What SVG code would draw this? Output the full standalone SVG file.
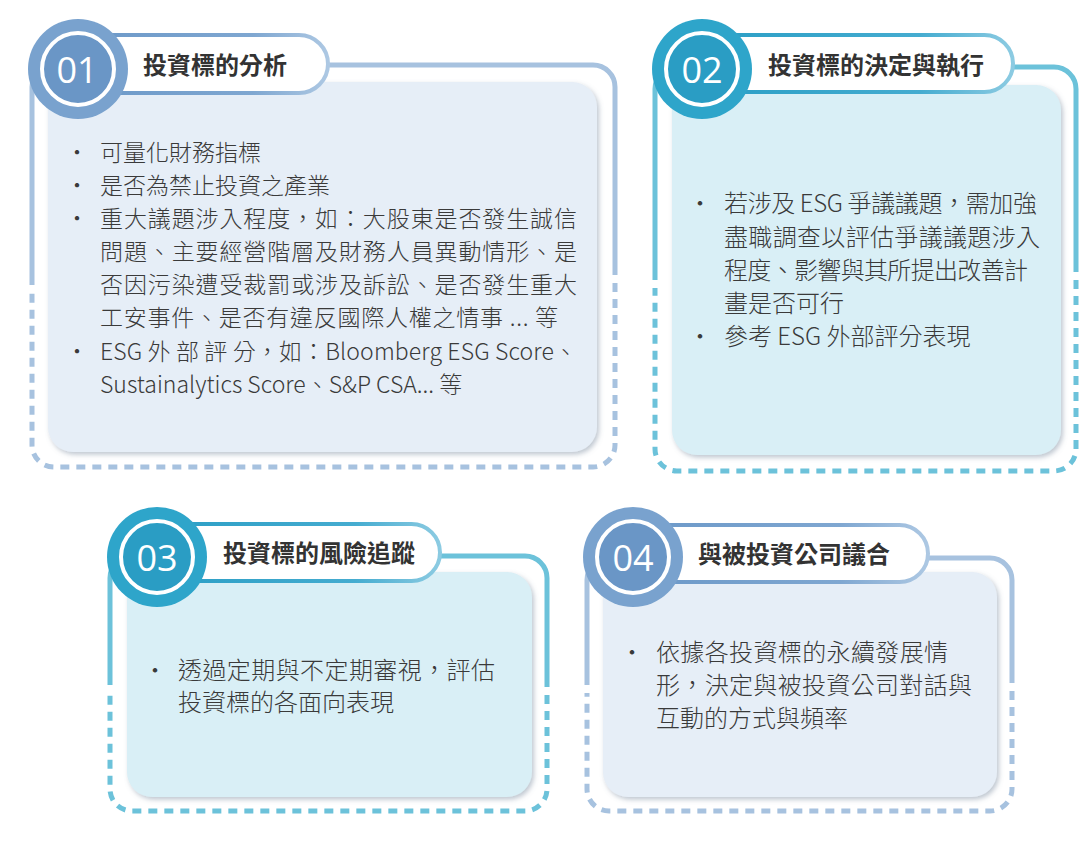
<svg xmlns="http://www.w3.org/2000/svg" width="1091" height="848" viewBox="0 0 1091 848">
<defs>
<style>
.frame{fill:none;stroke-width:5;stroke-linecap:butt}
.dash{stroke-dasharray:9 7}
.c1{stroke:#a7c2df}
.c2{stroke:#6cc2da}
.card1{fill:#e6eef7}
.card2{fill:#d9eff6}
.pill{fill:#ffffff;stroke-width:4}
.ring{fill:none;stroke:#ffffff;stroke-width:4}
.title{font-family:"Noto Sans CJK TC","Noto Sans",sans-serif;font-size:24px;font-weight:700;fill:#333333}
.num{font-family:"Open Sans","Noto Sans",sans-serif;font-size:36px;fill:#ffffff;text-anchor:middle}
.body{font-family:"Noto Sans CJK TC","Noto Sans",sans-serif;font-weight:300;fill:#3a3a3a}
.s23{font-size:23px}
.s24{font-size:24px}
.dot{text-anchor:middle}
</style>
<filter id="shadow" x="-5%" y="-5%" width="112%" height="115%">
<feDropShadow dx="2" dy="2.5" stdDeviation="2.5" flood-color="#6f8195" flood-opacity="0.45"/>
</filter>
<linearGradient id="pg1" x1="0" y1="0" x2="1" y2="0">
<stop offset="0" stop-color="#6b98c8"/>
<stop offset="0.7" stop-color="#7fa7d1"/>
<stop offset="1" stop-color="#adc8e3"/>
</linearGradient>
<linearGradient id="pg2" x1="0" y1="0" x2="1" y2="0">
<stop offset="0" stop-color="#2a9ec5"/>
<stop offset="0.7" stop-color="#45acd0"/>
<stop offset="1" stop-color="#8ccbe2"/>
</linearGradient>
</defs>
<rect width="1091" height="848" fill="#ffffff"/>

<g id="panel-1">
<path class="frame c1" d="M32,285 V87 A22,22 0 0 1 54,65 H593 A22,22 0 0 1 615,87 V275"/>
<path class="frame c1 dash" d="M615,283 V445 A22,22 0 0 1 593,467 H54 A22,22 0 0 1 32,445 V293"/>
<rect class="card1" x="48" y="82" width="549" height="370" rx="25" filter="url(#shadow)"/>
<rect class="pill" x="78" y="35" width="250" height="58" rx="29" stroke="url(#pg1)"/>
<circle cx="78" cy="69" r="50" fill="#79a2ce"/>
<circle cx="78" cy="69" r="34" fill="#6a96c6"/>
<circle class="ring" cx="78" cy="69" r="36"/>
<text class="num" x="77" y="83">01</text>
<text class="title" x="143" y="74">投資標的分析</text>
<g class="body s23">
<text class="dot" x="77" y="161">·</text>
<text x="100" y="161">可量化財務指標</text>
<text class="dot" x="77" y="194">·</text>
<text x="100" y="194">是否為禁止投資之產業</text>
<text class="dot" x="77" y="227">·</text>
<text x="100" y="227" textLength="477" lengthAdjust="spacing">重大議題涉入程度，如：大股東是否發生誠信</text>
<text x="100" y="260" textLength="477" lengthAdjust="spacing">問題、主要經營階層及財務人員異動情形、是</text>
<text x="100" y="293" textLength="477" lengthAdjust="spacing">否因污染遭受裁罰或涉及訴訟、是否發生重大</text>
<text x="100" y="326" textLength="458" lengthAdjust="spacing">工安事件、是否有違反國際人權之情事 ... 等</text>
<text class="dot" x="77" y="360">·</text>
<text x="100" y="360" textLength="477" lengthAdjust="spacing">ESG 外 部 評 分，如：Bloomberg ESG Score、</text>
<text x="100" y="393">Sustainalytics Score、S&amp;P CSA... 等</text>
</g>
</g>

<g id="panel-2">
<path class="frame c2" d="M655,280 V89 A22,22 0 0 1 677,67 H1054 A22,22 0 0 1 1076,89 V272"/>
<path class="frame c2 dash" d="M1076,280 V449 A22,22 0 0 1 1054,471 H677 A22,22 0 0 1 655,449 V288"/>
<rect class="card2" x="672" y="85" width="389" height="370" rx="25" filter="url(#shadow)"/>
<rect class="pill" x="702" y="35" width="311" height="57" rx="28.5" stroke="url(#pg2)"/>
<circle cx="702" cy="69" r="50" fill="#2ea5ca"/>
<circle cx="702" cy="69" r="34" fill="#2a9dc4"/>
<circle class="ring" cx="702" cy="69" r="36"/>
<text class="num" x="702" y="83">02</text>
<text class="title" x="768" y="74">投資標的決定與執行</text>
<g class="body s24">
<text class="dot" x="700" y="212">·</text>
<text x="724" y="212" textLength="313" lengthAdjust="spacing">若涉及 ESG 爭議議題，需加強</text>
<text x="724" y="246" textLength="316" lengthAdjust="spacing">盡職調查以評估爭議議題涉入</text>
<text x="724" y="279" textLength="304" lengthAdjust="spacing">程度、影響與其所提出改善計</text>
<text x="724" y="312">畫是否可行</text>
<text class="dot" x="700" y="345">·</text>
<text x="724" y="345">參考 ESG 外部評分表現</text>
</g>
</g>

<g id="panel-3">
<path class="frame c2" d="M110,685 V578 A22,22 0 0 1 132,556 H525 A22,22 0 0 1 547,578 V687"/>
<path class="frame c2 dash" d="M547,695 V789 A22,22 0 0 1 525,811 H132 A22,22 0 0 1 110,789 V693"/>
<rect class="card2" x="127" y="572" width="405" height="225" rx="25" filter="url(#shadow)"/>
<rect class="pill" x="157" y="524" width="283" height="57" rx="28.5" stroke="url(#pg2)"/>
<circle cx="157" cy="557" r="50" fill="#2ea5ca"/>
<circle cx="157" cy="557" r="34" fill="#2a9dc4"/>
<circle class="ring" cx="157" cy="557" r="36"/>
<text class="num" x="157" y="571">03</text>
<text class="title" x="223" y="562">投資標的風險追蹤</text>
<g class="body s24">
<text class="dot" x="155" y="679">·</text>
<text x="178" y="679" textLength="317" lengthAdjust="spacing">透過定期與不定期審視，評估</text>
<text x="178" y="711">投資標的各面向表現</text>
</g>
</g>

<g id="panel-4">
<path class="frame c1" d="M587,685 V580 A22,22 0 0 1 609,558 H990 A22,22 0 0 1 1012,580 V683"/>
<path class="frame c1 dash" d="M1012,691 V789 A22,22 0 0 1 990,811 H609 A22,22 0 0 1 587,789 V693"/>
<rect class="card1" x="603" y="572" width="394" height="225" rx="25" filter="url(#shadow)"/>
<rect class="pill" x="633" y="525" width="295" height="57" rx="28.5" stroke="url(#pg1)"/>
<circle cx="633" cy="557" r="50" fill="#79a2ce"/>
<circle cx="633" cy="557" r="34" fill="#6a96c6"/>
<circle class="ring" cx="633" cy="557" r="36"/>
<text class="num" x="633" y="571">04</text>
<text class="title" x="698" y="563">與被投資公司議合</text>
<g class="body s24">
<text class="dot" x="632" y="661">·</text>
<text x="656" y="661" textLength="292" lengthAdjust="spacing">依據各投資標的永續發展情</text>
<text x="656" y="694" textLength="316" lengthAdjust="spacing">形，決定與被投資公司對話與</text>
<text x="656" y="727">互動的方式與頻率</text>
</g>
</g>
</svg>
